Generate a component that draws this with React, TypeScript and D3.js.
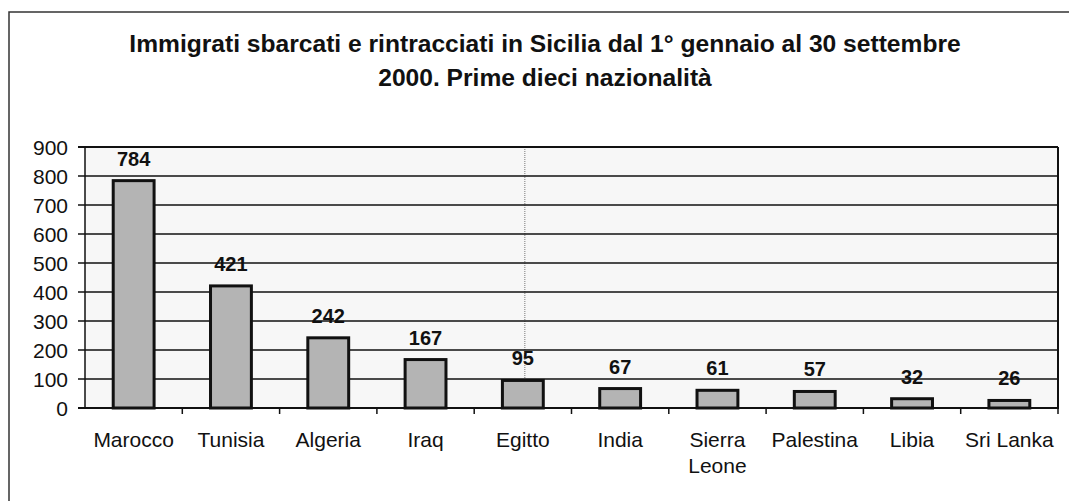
import React from "react";
import * as d3 from "d3";

const categories = ["Marocco", "Tunisia", "Algeria", "Iraq", "Egitto", "India", "Sierra Leone", "Palestina", "Libia", "Sri Lanka"];
const values = [784, 421, 242, 167, 95, 67, 61, 57, 32, 26];
const yTicks = [0, 100, 200, 300, 400, 500, 600, 700, 800, 900];
const titleLines = ["Immigrati sbarcati e rintracciati in Sicilia dal 1° gennaio al 30 settembre", "2000. Prime dieci nazionalità"];

export default function App() {
  const W = 1069, H = 501;
  const left = 85, right = 1058, top = 147, bottom = 408;
  const x = d3.scaleBand<string>().domain(categories).range([left, right]).paddingInner(0.58).paddingOuter(0.29);
  const y = d3.scaleLinear().domain([0, 900]).range([bottom, top]);
  const font = "Arial, 'Liberation Sans', sans-serif";
  const step = (right - left) / categories.length;
  return (
    <svg width={W} height={H} style={{ position: "absolute", left: 0, top: 0, background: "#fff" }} fontFamily={font}>
      <path d={`M9,${H} L9,12 L${W},12`} fill="none" stroke="#333" strokeWidth={1.5} />
      {titleLines.map((t, i) => (
        <text key={i} x={545} y={52 + i * 34} textAnchor="middle" fontSize={24.6} fontWeight="bold" fill="#111">{t}</text>
      ))}
      <rect x={left} y={top} width={right - left} height={bottom - top} fill="#f7f7f7" />
      <line x1={left + step * 4.5 + 2} x2={left + step * 4.5 + 2} y1={top} y2={bottom} stroke="#777" strokeWidth={1} strokeDasharray="1,1" />
      {yTicks.map((t) => (
        <g key={t}>
          <line x1={left - 7} x2={right} y1={y(t)} y2={y(t)} stroke="#111" strokeWidth={t === 0 || t === 900 ? 2 : 1.5} />
          <text x={68} y={y(t) + 8} textAnchor="end" fontSize={21} fill="#111">{t}</text>
        </g>
      ))}
      <line x1={left} x2={left} y1={top} y2={bottom + 1} stroke="#111" strokeWidth={1.5} />
      <line x1={right} x2={right} y1={top} y2={bottom + 1} stroke="#111" strokeWidth={2} />
      {categories.map((c, i) => {
        const tx = left + step * (i + 1);
        return <line key={"t" + c} x1={tx} x2={tx} y1={bottom} y2={bottom + 6} stroke="#111" strokeWidth={1.5} />;
      })}
      {categories.map((c, i) => {
        const bx = x(c)!;
        const bw = x.bandwidth();
        const cx = bx + bw / 2;
        const words = c === "Sierra Leone" ? ["Sierra", "Leone"] : [c];
        return (
          <g key={c}>
            <rect x={bx} y={y(values[i])} width={bw} height={bottom - y(values[i])} fill="#b4b4b4" stroke="#111" strokeWidth={3} />
            <text x={cx} y={y(values[i]) - 15} textAnchor="middle" fontSize={20} fontWeight="bold" fill="#111">{values[i]}</text>
            {words.map((w, j) => (
              <text key={w} x={cx} y={447 + j * 26} textAnchor="middle" fontSize={21} fill="#111">{w}</text>
            ))}
          </g>
        );
      })}
    </svg>
  );
}
